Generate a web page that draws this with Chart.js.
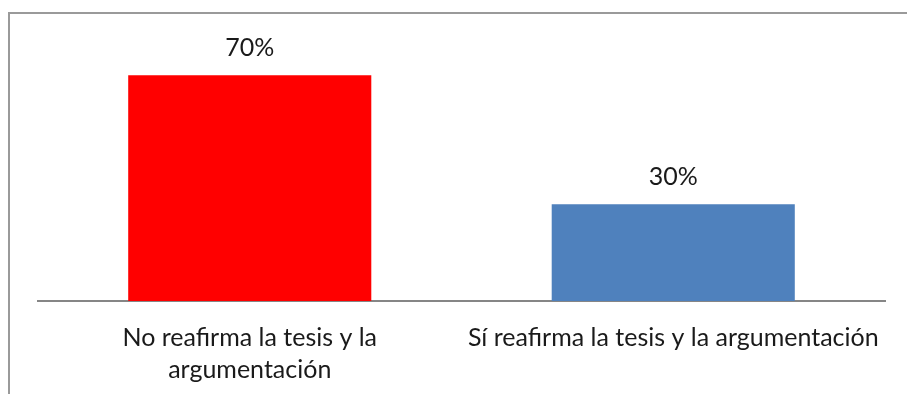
<!DOCTYPE html>
<html>
<head>
<meta charset="utf-8">
<script src="https://cdn.jsdelivr.net/npm/chart.js@4.4.1/dist/chart.umd.min.js"></script>
<style>
  html, body { margin: 0; padding: 0; background: #ffffff; }
  #wrap { position: relative; width: 907px; height: 394px; }
</style>
</head>
<body>
<div id="wrap"><canvas id="chart" width="907" height="394"></canvas></div>
<script>
// Survey result: share of texts that restate the thesis and argument
const categories = [
  ['No reafirma la tesis y la', 'argumentación'],
  'Sí reafirma la tesis y la argumentación'
];
const percentages = [70, 30];
const barColors = ['#FF0000', '#4F81BD'];
const valueLabels = ['70%', '30%'];

const FONT = 'Lato, "Open Sans", sans-serif';

// Frame lines along the top and left edge of the chart box
const framePlugin = {
  id: 'frame',
  beforeDraw(chart) {
    const ctx = chart.ctx;
    ctx.save();
    ctx.fillStyle = '#ffffff';
    ctx.fillRect(0, 0, chart.width, chart.height);
    ctx.fillStyle = '#9a9a9a';
    ctx.fillRect(8, 12, chart.width - 8, 2);
    ctx.fillRect(8, 12, 2, chart.height - 12);
    ctx.restore();
  }
};

// Percentage labels placed above each bar
const valueLabelPlugin = {
  id: 'valueLabels',
  afterDatasetsDraw(chart) {
    const ctx = chart.ctx;
    const meta = chart.getDatasetMeta(0);
    ctx.save();
    ctx.font = '25px ' + FONT;
    ctx.fillStyle = '#1a1a1a';
    ctx.textAlign = 'center';
    ctx.textBaseline = 'middle';
    meta.data.forEach((bar, i) => {
      ctx.fillText(valueLabels[i], bar.x, bar.y - 27);
    });
    ctx.restore();
  }
};

new Chart(document.getElementById('chart'), {
  type: 'bar',
  data: {
    labels: categories,
    datasets: [{
      data: percentages,
      backgroundColor: barColors,
      borderWidth: 0,
      barPercentage: 1,
      categoryPercentage: 0.574
    }]
  },
  options: {
    responsive: false,
    animation: false,
    events: [],
    layout: { padding: { left: 38, right: 22, top: 43, bottom: -13 } },
    plugins: {
      legend: { display: false },
      tooltip: { enabled: false }
    },
    scales: {
      x: {
        grid: { display: false, drawTicks: false },
        border: { display: true, color: '#868686', width: 2 },
        ticks: {
          color: '#1a1a1a',
          padding: 21,
          maxRotation: 0,
          autoSkip: false,
          font: { family: FONT, size: 25, lineHeight: 1.28 }
        }
      },
      y: {
        display: false,
        min: 0,
        max: 80
      }
    }
  },
  plugins: [framePlugin, valueLabelPlugin]
});
</script>
</body>
</html>
